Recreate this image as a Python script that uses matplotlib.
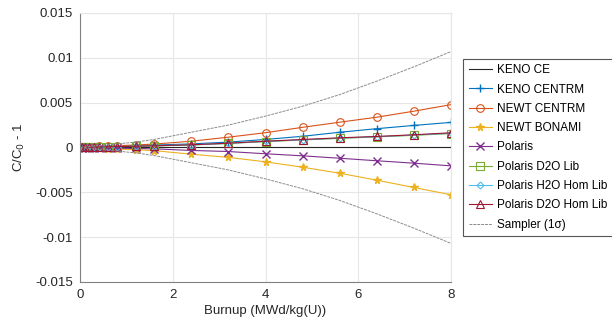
import numpy as np
import matplotlib.pyplot as plt
from matplotlib.ticker import FuncFormatter

plt.rcParams['font.family'] = ['Liberation Sans', 'DejaVu Sans']

# burnup steps (MWd/kg(U))
burnup = [0, 0.05, 0.1, 0.2, 0.3, 0.4, 0.6, 0.8, 1.2, 1.6, 2.4, 3.2, 4.0, 4.8, 5.6, 6.4, 7.2, 8.0]

# C/C0 - 1 for each code
keno_ce = [0] * len(burnup)
keno_centrm = [0, 0.00001, 0.00002, 0.00004, 0.00006, 0.00008, 0.00011, 0.00014, 0.0002, 0.00027,
               0.0004, 0.0006, 0.0009, 0.00125, 0.0017, 0.0021, 0.00246, 0.0028]
newt_centrm = [0, 0.00002, 0.00004, 0.00007, 0.0001, 0.00012, 0.00016, 0.0002, 0.00028, 0.00038,
               0.0007, 0.00115, 0.00165, 0.00225, 0.00282, 0.00338, 0.00405, 0.00478]
newt_bonami = [0, -0.00001, -0.00003, -0.00005, -0.00008, -0.0001, -0.00014, -0.00018, -0.00025, -0.00035,
               -0.00075, -0.0011, -0.0016, -0.0022, -0.00287, -0.00365, -0.00446, -0.00528]
polaris = [0, -0.00001, -0.00001, -0.00002, -0.00003, -0.00004, -0.00006, -0.00008, -0.00011, -0.00015,
           -0.00033, -0.00045, -0.0007, -0.00093, -0.0012, -0.00148, -0.00175, -0.00205]
polaris_d2o_lib = [0, 0.00001, 0.00002, 0.00003, 0.00004, 0.00005, 0.00007, 0.00009, 0.00013, 0.00018,
                   0.00028, 0.00045, 0.00066, 0.00084, 0.00102, 0.00118, 0.00136, 0.00155]
polaris_h2o_hom = [0, 0.00001, 0.00002, 0.00003, 0.00005, 0.00006, 0.00008, 0.0001, 0.00014, 0.00019,
                   0.00029, 0.00046, 0.00068, 0.00086, 0.00105, 0.0012, 0.00139, 0.0016]
polaris_d2o_hom = [0, 0.00001, 0.00002, 0.00003, 0.00005, 0.00006, 0.00008, 0.0001, 0.00014, 0.00019,
                   0.0003, 0.00048, 0.0007, 0.00089, 0.00108, 0.00123, 0.00142, 0.00164]
# Sampler 1-sigma band
sampler_sigma = [0, 0.00002, 0.00004, 0.0001, 0.00015, 0.0002, 0.0003, 0.0004, 0.0006, 0.0009,
                 0.0017, 0.0025, 0.0035, 0.0046, 0.0059, 0.0074, 0.009, 0.0107]

fig = plt.figure(figsize=(6.12, 3.29), dpi=100)
ax = fig.add_axes([0.1307, 0.1429, 0.6063, 0.8176])

lw = 0.8
ms = 5.5
ax.plot(burnup, keno_ce, color='#262626', lw=lw, label='KENO CE')
ax.plot(burnup, keno_centrm, color='#0072BD', lw=lw, marker='+', ms=ms, label='KENO CENTRM')
ax.plot(burnup, newt_centrm, color='#D95319', lw=lw, marker='o', ms=ms, mfc='none', mew=0.8, label='NEWT CENTRM')
ax.plot(burnup, newt_bonami, color='#EDB120', lw=lw, marker='*', ms=ms, label='NEWT BONAMI')
ax.plot(burnup, polaris, color='#7E2F8E', lw=lw, marker='x', ms=ms, label='Polaris')
ax.plot(burnup, polaris_d2o_lib, color='#77AC30', lw=lw, marker='s', ms=ms, mfc='none', mew=0.8, label='Polaris D2O Lib')
ax.plot(burnup, polaris_h2o_hom, color='#4DBEEE', lw=lw, marker='D', ms=3.5, mfc='none', mew=0.8, label='Polaris H2O Hom Lib')
ax.plot(burnup, polaris_d2o_hom, color='#A2142F', lw=lw, marker='^', ms=ms, mfc='none', mew=0.8, label='Polaris D2O Hom Lib')

sig = np.array(sampler_sigma)
ax.plot(burnup, sig, color='#8c8c8c', lw=0.7, ls=(0, (3, 1)), label='Sampler (1\u03c3)')
ax.plot(burnup, -sig, color='#8c8c8c', lw=0.7, ls=(0, (3, 1)))

ax.set_xlim(0, 8)
ax.set_ylim(-0.015, 0.015)
ax.set_xticks([0, 2, 4, 6, 8])
ax.set_yticks([-0.015, -0.01, -0.005, 0, 0.005, 0.01, 0.015])
ax.yaxis.set_major_formatter(FuncFormatter(lambda v, p: '%g' % round(v, 4)))
ax.grid(True, color='#e6e6e6', lw=0.8)
ax.set_axisbelow(True)
ax.tick_params(length=0, labelsize=9.5, colors='#262626', pad=5)
for s in ['top', 'right']:
    ax.spines[s].set_color('#e6e6e6')
for s in ['left', 'bottom']:
    ax.spines[s].set_color('#808080')

ax.set_xlabel('Burnup (MWd/kg(U))', fontsize=9.5, color='#262626', labelpad=3)
ax.set_ylabel('C/C$_0$ - 1', fontsize=9.5, color='#262626', labelpad=6)

leg = fig.legend(loc='upper left', bbox_to_anchor=(0.757, 0.821), borderaxespad=0, fontsize=8.5,
                 frameon=True, fancybox=False, edgecolor='#555555', framealpha=1,
                 labelspacing=0.62, handlelength=2.0, borderpad=0.45, handletextpad=0.4)
leg.get_frame().set_linewidth(0.8)

fig.savefig('out.png', dpi=100)
